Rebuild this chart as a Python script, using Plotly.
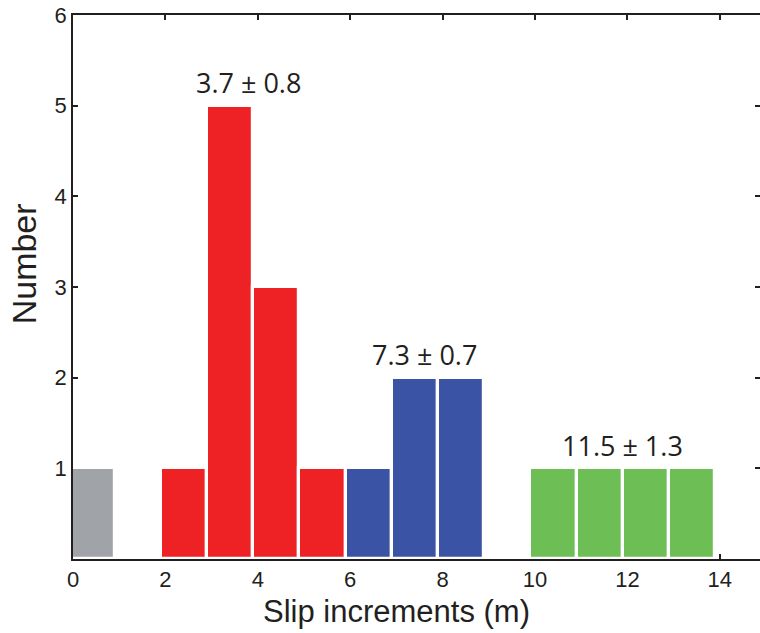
import plotly.graph_objects as go

# ---- data ----
gray_bins = [0]
gray_counts = [1]
red_bins = [2, 3, 4, 5]
red_counts = [1, 5, 3, 1]
blue_bins = [6, 7, 8]
blue_counts = [1, 2, 2]
green_bins = [10, 11, 12, 13]
green_counts = [1, 1, 1, 1]
empty_bins = [1, 9, 14]          # bins with zero count (only the axis line shows)
red_label = "3.7 ± 0.8"
blue_label = "7.3 ± 0.7"
green_label = "11.5 ± 1.3"
x_ticks = [0, 2, 4, 6, 8, 10, 12, 14]
y_ticks = [1, 2, 3, 4, 5, 6]

# ---- styling ----
INK = "#231F20"
GRAY = "#A0A3A7"
RED = "#EE2124"
BLUE = "#3A53A4"
GREEN = "#6DBE54"
BAR_OFFSET = -0.1
BAR_WIDTH = 1.0

fig = go.Figure()

def add_bars(bins, counts, color, name):
    fig.add_trace(go.Bar(
        x=bins, y=counts, name=name,
        width=BAR_WIDTH, offset=BAR_OFFSET,
        marker=dict(color=color, line=dict(color="white", width=3.2)),
        cliponaxis=False, showlegend=False, hoverinfo="x+y",
    ))

add_bars(gray_bins, gray_counts, GRAY, "other")
add_bars(red_bins, red_counts, RED, "group 1")
add_bars(blue_bins, blue_counts, BLUE, "group 2")
add_bars(green_bins, green_counts, GREEN, "group 3")

label_font = dict(family="Open Sans", size=27, color=INK)
for bins, counts, text in [(red_bins, red_counts, red_label),
                           (blue_bins, blue_counts, blue_label),
                           (green_bins, green_counts, green_label)]:
    centers = [b + BAR_OFFSET + BAR_WIDTH / 2 for b in bins]
    xc = sum(c * n for c, n in zip(centers, counts)) / sum(counts)
    fig.add_annotation(x=xc, y=max(counts), xref="x", yref="y",
                       text=text, showarrow=False, font=label_font,
                       xanchor="center", yanchor="middle", yshift=23)

fig.add_annotation(text="Slip increments (m)", x=7, xref="x", y=0, yref="paper",
                   xanchor="center", yanchor="top", yshift=-33, showarrow=False,
                   font=dict(family="Liberation Sans", size=31, color=INK))
fig.add_annotation(text="Number", x=0, xref="paper", y=3.25, yref="y",
                   xanchor="center", yanchor="middle", xshift=-49, textangle=-90,
                   showarrow=False,
                   font=dict(family="Liberation Sans", size=34, color=INK))

axis_common = dict(
    showline=True, linewidth=1.6, linecolor=INK, mirror="allticks",
    ticks="inside", ticklen=5, tickwidth=1.5, tickcolor=INK,
    showgrid=False, zeroline=False, layer="below traces",
    automargin=False, ticklabeloverflow="allow",
    tickfont=dict(family="Liberation Sans", size=22, color=INK),
)

fig.update_xaxes(range=[0, 14.87], tickvals=x_ticks, ticktext=[str(v) for v in x_ticks],
                 **axis_common)
fig.update_yaxes(range=[0, 6], tickvals=y_ticks, ticktext=[str(v) for v in y_ticks],
                 **axis_common)

fig.update_layout(
    width=760, height=633,
    margin=dict(l=73, r=0, t=15, b=74, pad=0),
    plot_bgcolor="white", paper_bgcolor="white",
    barmode="overlay", bargap=0,
    showlegend=False,
)

# remove the browser's default 8px body margin so the figure fills the window
fig.write_html("out.html",
               config={"displayModeBar": False},
               post_script="document.body.style.margin='0';"
                           "document.body.style.overflow='hidden';")
